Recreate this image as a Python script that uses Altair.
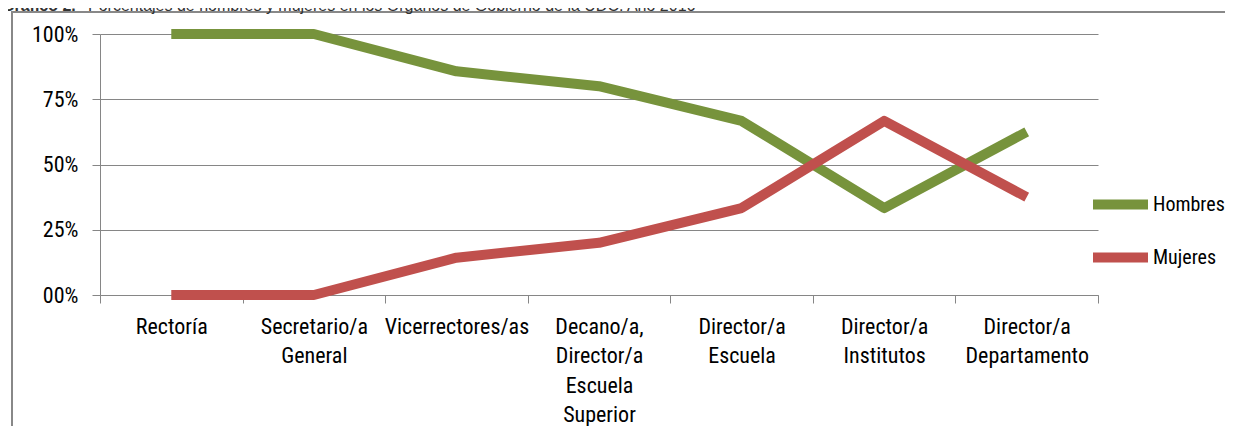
import altair as alt
import pandas as pd

# ---- data ----
cargo_lines = [
    ["Rectoría"],
    ["Secretario/a", "General"],
    ["Vicerrectores/as"],
    ["Decano/a,", "Director/a", "Escuela", "Superior"],
    ["Director/a", "Escuela"],
    ["Director/a", "Institutos"],
    ["Director/a", "Departamento"],
]
categories = ["|".join(l) for l in cargo_lines]
hombres = [100, 100, 85.7, 80, 66.7, 33.3, 62.5]
mujeres = [0, 0, 14.3, 20, 33.3, 66.7, 37.5]
series = ["Hombres", "Mujeres"]
colors = ["#77933C", "#C0504D"]
y_ticks = [0, 25, 50, 75, 100]
title_bold = "Gráfico 2."
title_rest = "Porcentajes de hombres y mujeres en los Órganos de Gobierno de la UDC. Año 2016"

rows = []
for c, h, m in zip(categories, hombres, mujeres):
    rows.append({"cargo": c, "sexo": "Hombres", "pct": h})
    rows.append({"cargo": c, "sexo": "Mujeres", "pct": m})
df = pd.DataFrame(rows)

FONT = "Liberation Sans Narrow, Arial Narrow, Roboto Condensed, DejaVu Sans Condensed, sans-serif"
W, H = 998, 261

lines = alt.Chart(df).mark_line(strokeWidth=10, strokeJoin="round", strokeCap="butt").encode(
    x=alt.X("cargo:N", sort=categories, title=None,
            scale=alt.Scale(paddingInner=0, paddingOuter=0),
            axis=alt.Axis(labelExpr="split(datum.label, '|')", labelAngle=0,
                          labelFont=FONT, labelFontSize=22, labelLineHeight=29.5,
                          labelColor="#000", labelBaseline="top", labelPadding=13,
                          labelLimit=0, tickBand="extent", tickSize=8,
                          tickColor="#868686", domainColor="#868686", grid=False)),
    y=alt.Y("pct:Q", title=None, scale=alt.Scale(domain=[0, 100], nice=False),
            axis=alt.Axis(values=y_ticks,
                          labelExpr="datum.value == 0 ? '00%' : format(datum.value, 'd') + '%'",
                          labelFont=FONT, labelFontSize=22, labelColor="#000",
                          labelPadding=14, tickSize=8, tickColor="#868686",
                          domainColor="#868686", gridColor="#868686", grid=True)),
    color=alt.Color("sexo:N", scale=alt.Scale(domain=series, range=colors),
                    legend=alt.Legend(title=None, orient="none", legendX=988, legendY=138,
                                      symbolType="stroke", symbolSize=3025,
                                      symbolStrokeWidth=10, labelFont=FONT,
                                      labelFontSize=20, labelColor="#000",
                                      labelOffset=0, rowPadding=-16, padding=0)),
    order=alt.Order("idx:Q"),
).transform_calculate(idx="indexof(" + str(categories) + ", datum.cargo)")

one = alt.Data(values=[{"a": 1}])
frame_left = alt.Chart(one).mark_rule(color="#888888", strokeWidth=2).encode(
    x=alt.value(-88), y=alt.value(-22), y2=alt.value(400))
frame_top = alt.Chart(one).mark_rule(color="#888888", strokeWidth=2).encode(
    x=alt.value(-89), x2=alt.value(1125), y=alt.value(-22))

t1 = alt.Chart(alt.Data(values=[{"t": title_bold}])).mark_text(
    font="Liberation Sans, Arial, sans-serif", fontSize=16, fontWeight="bold",
    align="left", baseline="alphabetic", color="#333333").encode(
    text="t:N", x=alt.value(-98), y=alt.value(-23))
t2 = alt.Chart(alt.Data(values=[{"t": title_rest}])).mark_text(
    font="Liberation Sans, Arial, sans-serif", fontSize=16,
    align="left", baseline="alphabetic", color="#333333").encode(
    text="t:N", x=alt.value(-12), y=alt.value(-23))

chart = alt.layer(frame_left, frame_top, t1, t2, lines).properties(
    width=W, height=H,
    autosize=alt.AutoSizeParams(type="none"),
    padding={"left": 92, "top": 26, "right": 127, "bottom": 131},
).configure_view(stroke=None)

chart.save("out.html", embed_options={"renderer": "svg", "actions": False})
